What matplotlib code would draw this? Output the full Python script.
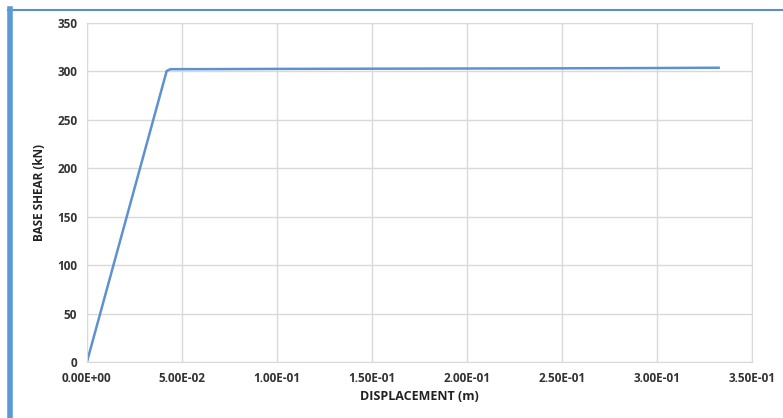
import matplotlib.pyplot as plt
from matplotlib.lines import Line2D
from matplotlib.ticker import FuncFormatter

# pushover curve
displacement = [0.0, 0.0420, 0.0440, 0.0700, 0.1000, 0.1500, 0.2000, 0.2500, 0.3000, 0.3326]
base_shear = [0.0, 300.5, 302.3, 302.4, 302.6, 302.8, 303.0, 303.2, 303.5, 303.8]

x_ticks = [0.0, 0.05, 0.10, 0.15, 0.20, 0.25, 0.30, 0.35]
y_ticks = [0, 50, 100, 150, 200, 250, 300, 350]

plt.rcParams['font.family'] = ['Open Sans', 'DejaVu Sans']

fig = plt.figure(figsize=(7.83, 4.18), dpi=100)
ax = fig.add_axes([0.111, 0.134, 0.849, 0.811])

ax.plot(displacement, base_shear, color='#5e92cf', linewidth=1.8)

ax.set_xlim(0, 0.35)
ax.set_ylim(0, 350)
ax.set_xticks(x_ticks)
ax.set_yticks(y_ticks)
ax.xaxis.set_major_formatter(FuncFormatter(lambda v, p: f"{v:.2E}"))
ax.grid(True, color='#d9d9d9', linewidth=1)
ax.set_axisbelow(True)
for s in ax.spines.values():
    s.set_color('#d9d9d9')
ax.tick_params(length=0, labelsize=8.5, pad=7)
for lab in ax.get_xticklabels() + ax.get_yticklabels():
    lab.set_fontweight('bold')
    lab.set_color('#333333')

ax.set_xlabel("DISPLACEMENT (m)", fontsize=9, fontweight='bold', labelpad=4, color='#222222')
ax.set_ylabel("BASE SHEAR (kN)", fontsize=8.5, fontweight='bold', labelpad=8, color='#222222')

# blue frame around the chart like the original screenshot
fig.add_artist(Line2D([8 / 783, 1.0], [1 - 9.5 / 418, 1 - 9.5 / 418],
                      transform=fig.transFigure, color='#5b8fcc', linewidth=1.5))
fig.add_artist(Line2D([10 / 783, 10 / 783], [0, 1 - 9 / 418],
                      transform=fig.transFigure, color='#5b9bd5', linewidth=4))

fig.savefig("out.png", dpi=100)
